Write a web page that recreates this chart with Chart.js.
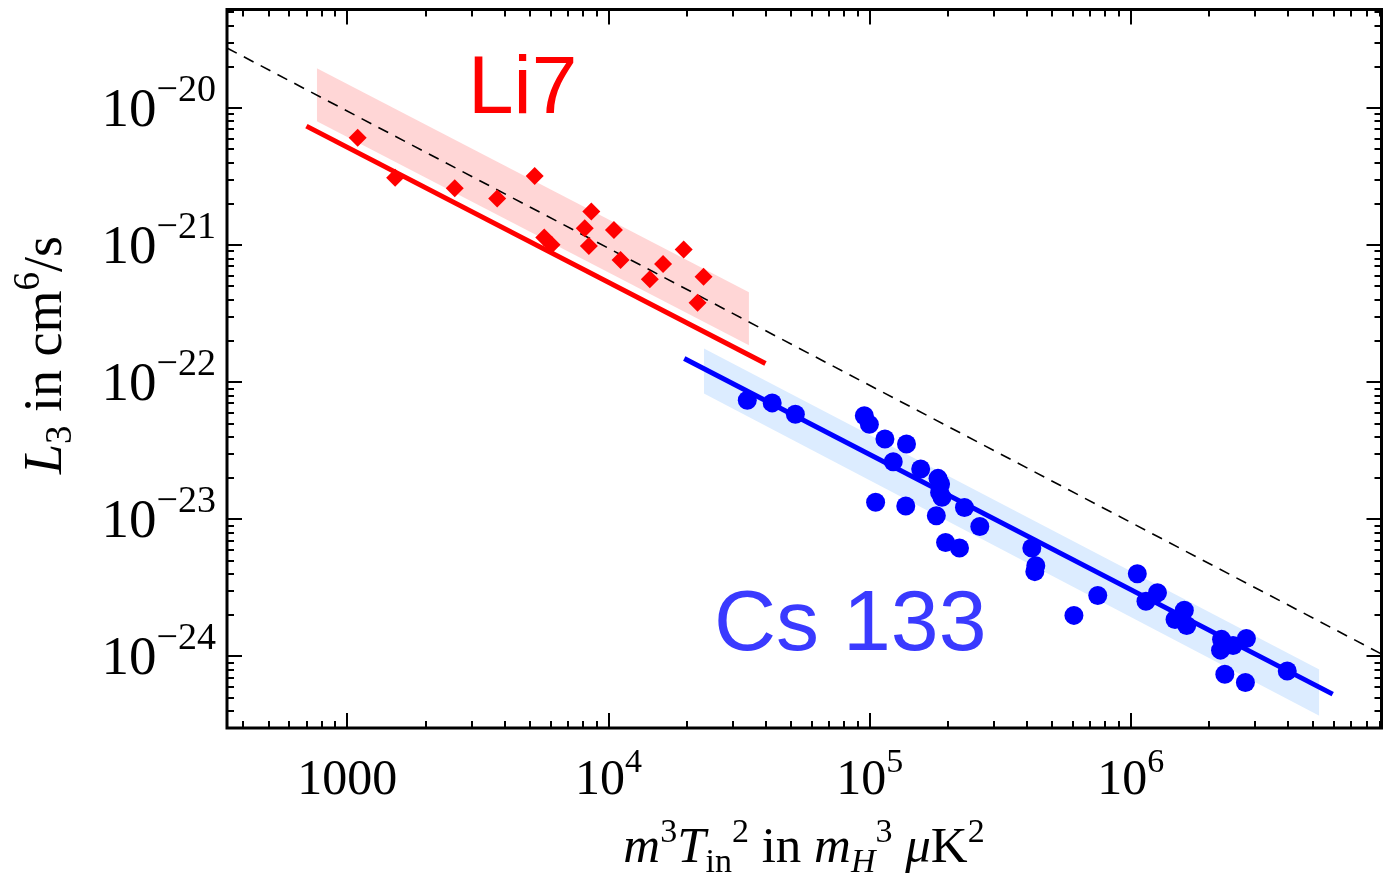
<!DOCTYPE html>
<html>
<head>
<meta charset="utf-8">
<script src="https://cdn.jsdelivr.net/npm/chart.js@4.4.1/dist/chart.umd.min.js"></script>
<style>
html,body{margin:0;padding:0;background:#fff;}
#wrap{width:1391px;height:875px;position:relative;}
</style>
</head>
<body>
<div id="wrap"><canvas id="c" width="1391" height="875"></canvas></div>
<script>
// ---- data ----
const liX = [1095,1524,2577,3748,5216,8595,8110,10490,5675,6053,8410,11120,19400,16180,23120,14390,21930];
const liY = [6.08e-21,3.11e-21,2.61e-21,2.19e-21,3.20e-21,1.76e-21,1.33e-21,1.29e-21,1.14e-21,1.01e-21,9.87e-22,7.80e-22,9.31e-22,7.30e-22,5.90e-22,5.64e-22,3.80e-22];

const csX = [34000,42340,51940,95400,99750,114400,138400,123100,156800,182700,186900,185300,189200,105400,137500,180000,230700,264100,195300,220800,417800,432700,429000,605600,747200,1059000,1143000,1265000,1477000,1603000,1637000,2226000,2206000,2464000,2771000,2291000,2747000,3972000];
const csY = [7.40e-23,7.07e-23,5.85e-23,5.69e-23,4.93e-23,3.85e-23,3.54e-23,2.63e-23,2.33e-23,1.99e-23,1.81e-23,1.57e-23,1.45e-23,1.33e-23,1.25e-23,1.06e-23,1.22e-23,8.86e-24,6.78e-24,6.17e-24,6.17e-24,4.59e-24,4.15e-24,1.99e-24,2.78e-24,4.01e-24,2.52e-24,2.91e-24,1.86e-24,2.17e-24,1.68e-24,1.33e-24,1.11e-24,1.20e-24,1.35e-24,7.40e-25,6.44e-25,7.81e-25];

const liFitX = [697, 39900];
const liFitY = [7.40e-21, 1.37e-22];
const csFitX = [19500, 5.93e6];
const csFitY = [1.49e-22, 5.30e-25];

const liBandX = [764, 34500];
const liBandHi = [1.96e-20, 4.54e-22];
const liBandLo = [8.04e-21, 1.86e-22];
const csBandX = [23200, 5.27e6];
const csBandHi = [1.76e-22, 8.03e-25];
const csBandLo = [8.28e-23, 3.68e-25];

const refX = [346, 9.12e6];
const refY = [2.75e-20, 1.04e-24];

const xRange = [346, 9.12e6];
const yRange = [3.07e-25, 5.25e-20];

const xTickValues = [1e3, 1e4, 1e5, 1e6];
const xTickBase = ['1000', '10', '10', '10'];
const xTickExp = ['', '4', '5', '6'];
const yTickValues = [1e-20, 1e-21, 1e-22, 1e-23, 1e-24];
const yTickBase = ['10', '10', '10', '10', '10'];
const yTickExp = ['\u221220', '\u221221', '\u221222', '\u221223', '\u221224'];

const labelLi = 'Li7';
const labelCs = 'Cs 133';

// ---- helpers ----
const zip = (xs, ys) => xs.map((x, i) => ({x: x, y: ys[i]}));
const SERIF = '"Liberation Serif", "DejaVu Serif", serif';

function richWidth(ctx, segs) {
  let w = 0;
  for (const s of segs) {
    ctx.font = (s.i ? 'italic ' : '') + s.size + 'px ' + SERIF;
    w += ctx.measureText(s.t).width + (s.gap || 0);
  }
  return w;
}
function drawRich(ctx, segs, x, y, align) {
  const w = richWidth(ctx, segs);
  let cx = align === 'center' ? x - w / 2 : (align === 'right' ? x - w : x);
  ctx.textBaseline = 'alphabetic';
  ctx.textAlign = 'left';
  for (const s of segs) {
    ctx.font = (s.i ? 'italic ' : '') + s.size + 'px ' + SERIF;
    ctx.fillText(s.t, cx, y + (s.dy || 0));
    cx += ctx.measureText(s.t).width + (s.gap || 0);
  }
}

const framePlugin = {
  id: 'frame',
  afterDraw(chart) {
    const ctx = chart.ctx;
    const a = chart.chartArea;
    const xs = chart.scales.x, ys = chart.scales.y;
    ctx.save();
    ctx.strokeStyle = '#000';
    ctx.fillStyle = '#000';
    // minor/major ticks (inward, mirrored)
    ctx.lineWidth = 2;
    ctx.beginPath();
    for (let d = 2; d <= 6; d++) {
      for (let m = 1; m <= 9; m++) {
        const v = m * Math.pow(10, d);
        if (v < xRange[0] || v > xRange[1]) continue;
        const px = Math.round(xs.getPixelForValue(v));
        const len = m === 1 ? 15 : 7;
        ctx.moveTo(px, a.bottom); ctx.lineTo(px, a.bottom - len);
        ctx.moveTo(px, a.top); ctx.lineTo(px, a.top + len);
      }
    }
    for (let d = -25; d <= -20; d++) {
      for (let m = 1; m <= 9; m++) {
        const v = m * Math.pow(10, d);
        if (v < yRange[0] || v > yRange[1]) continue;
        const py = Math.round(ys.getPixelForValue(v));
        const len = m === 1 ? 15 : 7;
        ctx.moveTo(a.left, py); ctx.lineTo(a.left + len, py);
        ctx.moveTo(a.right, py); ctx.lineTo(a.right - len, py);
      }
    }
    ctx.stroke();
    // frame
    ctx.lineWidth = 3;
    ctx.strokeRect(a.left, a.top, a.right - a.left, a.bottom - a.top);

    // x tick labels
    xTickValues.forEach((v, i) => {
      const px = xs.getPixelForValue(v);
      const segs = [{t: xTickBase[i], size: 50}];
      if (xTickExp[i]) segs.push({t: xTickExp[i], size: 34, dy: -22});
      drawRich(ctx, segs, px, a.bottom + 66, 'center');
    });
    // y tick labels
    yTickValues.forEach((v, i) => {
      const py = ys.getPixelForValue(v);
      const segs = [{t: yTickBase[i], size: 55}, {t: yTickExp[i], size: 38, dy: -25}];
      drawRich(ctx, segs, a.left - 11, py + 18, 'right');
    });

    // x axis title
    drawRich(ctx, [
      {t: 'm', size: 51, i: true},
      {t: '3', size: 34, dy: -20},
      {t: 'T', size: 51, i: true},
      {t: 'in', size: 34, dy: 10},
      {t: '2', size: 34, dy: -20},
      {t: ' in ', size: 51},
      {t: 'm', size: 51, i: true},
      {t: 'H', size: 34, i: true, dy: 10},
      {t: '3', size: 34, dy: -20},
      {t: ' ', size: 51},
      {t: '\u03bc', size: 51, i: true},
      {t: 'K', size: 51},
      {t: '2', size: 34, dy: -20}
    ], 804, 862, 'center');

    // y axis title (rotated)
    ctx.save();
    ctx.translate(61, 355);
    ctx.rotate(-Math.PI / 2);
    drawRich(ctx, [
      {t: 'L', size: 54, i: true},
      {t: '3', size: 37, dy: 10},
      {t: ' in cm', size: 54},
      {t: '6', size: 37, dy: -22},
      {t: '/s', size: 54}
    ], 0, 0, 'center');
    ctx.restore();

    // series annotations
    ctx.textAlign = 'left';
    ctx.textBaseline = 'alphabetic';
    ctx.font = '82px "Liberation Sans", Arial, sans-serif';
    ctx.fillStyle = '#ff0000';
    ctx.fillText(labelLi, 468, 113);
    ctx.font = '86px "Liberation Sans", Arial, sans-serif';
    ctx.fillStyle = '#3a3aff';
    ctx.fillText(labelCs, 714, 650);
    ctx.restore();
  }
};

const lineDs = (data, color, width, order, extra) => Object.assign({
  data: data, showLine: true, borderColor: color, borderWidth: width,
  pointRadius: 0, pointHoverRadius: 0, fill: false, tension: 0, order: order
}, extra || {});

new Chart(document.getElementById('c'), {
  type: 'scatter',
  data: {
    datasets: [
      // points (on top)
      {data: zip(csX, csY), pointStyle: 'circle', pointRadius: 9.5, pointHoverRadius: 9.5,
       backgroundColor: '#0000ff', borderColor: '#0000ff', borderWidth: 0, order: 0},
      {data: zip(liX, liY), pointStyle: 'rectRot', pointRadius: 9, pointHoverRadius: 9,
       backgroundColor: '#ff0000', borderColor: '#ff0000', borderWidth: 0, order: 0},
      // fits
      lineDs(zip(liFitX, liFitY), '#ff0000', 5, 1),
      lineDs(zip(csFitX, csFitY), '#0000ff', 5, 1),
      // reference dashed
      lineDs(zip(refX, refY), '#000000', 1.6, 2, {borderDash: [11, 8]}),
      // bands
      lineDs(zip(liBandX, liBandHi), 'rgba(0,0,0,0)', 0, 3, {fill: '+1', backgroundColor: '#ffd6d6'}),
      lineDs(zip(liBandX, liBandLo), 'rgba(0,0,0,0)', 0, 3),
      lineDs(zip(csBandX, csBandHi), 'rgba(0,0,0,0)', 0, 3, {fill: '+1', backgroundColor: '#dcecff'}),
      lineDs(zip(csBandX, csBandLo), 'rgba(0,0,0,0)', 0, 3)
    ]
  },
  options: {
    responsive: false,
    animation: false,
    events: [],
    layout: {padding: {left: 227, top: 8, right: 4, bottom: 147}},
    plugins: {legend: {display: false}, tooltip: {enabled: false}},
    scales: {
      x: {type: 'logarithmic', min: xRange[0], max: xRange[1], display: false},
      y: {type: 'logarithmic', min: yRange[0], max: yRange[1], display: false}
    }
  },
  plugins: [framePlugin]
});
</script>
</body>
</html>
